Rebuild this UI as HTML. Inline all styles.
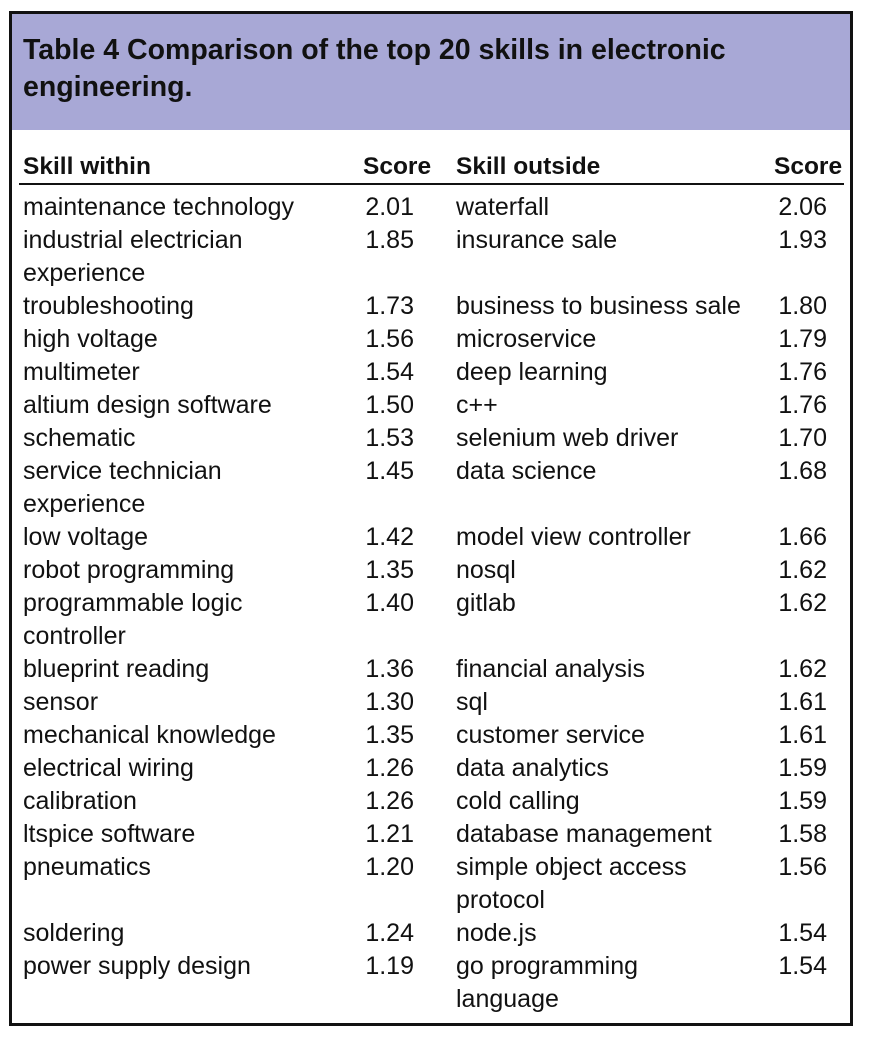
<!DOCTYPE html>
<html><head><meta charset="utf-8"><style>
body{margin:0;background:#fff;width:888px;height:1042px;position:relative;font-family:"Liberation Sans",sans-serif;color:#111;}
#box{position:absolute;left:9px;top:11px;width:838px;height:1009px;border:3px solid #111;}
#hd{position:absolute;left:0;top:0;width:838px;height:116px;background:#a8a8d6;}
#title{position:absolute;left:11px;top:18px;font-weight:bold;font-size:28.5px;line-height:37px;width:830px;white-space:nowrap;}
.h{position:absolute;top:139px;font-weight:bold;font-size:24.5px;}
#rule{position:absolute;left:7px;top:169px;width:825px;height:2px;background:#111;}
#rows{position:absolute;left:0;top:177px;width:838px;font-size:25px;line-height:33px;}
.r{position:relative;}
.a{position:absolute;left:11px;width:330px;}
.b{position:absolute;left:330px;width:72px;text-align:right;}
.c{position:absolute;left:444px;width:320px;}
.d{position:absolute;left:740px;width:75px;text-align:right;}
</style></head><body>
<div id="box">
<div id="hd"></div>
<div id="title">Table 4 Comparison of the top 20 skills in electronic<br>engineering.</div>
<div class="h" style="left:11px">Skill within</div>
<div class="h" style="left:351px">Score</div>
<div class="h" style="left:444px">Skill outside</div>
<div class="h" style="left:762px">Score</div>
<div id="rule"></div>
<div id="rows">
<div class="r" style="height:33px"><span class="a">maintenance technology</span><span class="b">2.01</span><span class="c">waterfall</span><span class="d">2.06</span></div>
<div class="r" style="height:66px"><span class="a">industrial electrician<br>experience</span><span class="b">1.85</span><span class="c">insurance sale</span><span class="d">1.93</span></div>
<div class="r" style="height:33px"><span class="a">troubleshooting</span><span class="b">1.73</span><span class="c">business to business sale</span><span class="d">1.80</span></div>
<div class="r" style="height:33px"><span class="a">high voltage</span><span class="b">1.56</span><span class="c">microservice</span><span class="d">1.79</span></div>
<div class="r" style="height:33px"><span class="a">multimeter</span><span class="b">1.54</span><span class="c">deep learning</span><span class="d">1.76</span></div>
<div class="r" style="height:33px"><span class="a">altium design software</span><span class="b">1.50</span><span class="c">c++</span><span class="d">1.76</span></div>
<div class="r" style="height:33px"><span class="a">schematic</span><span class="b">1.53</span><span class="c">selenium web driver</span><span class="d">1.70</span></div>
<div class="r" style="height:66px"><span class="a">service technician<br>experience</span><span class="b">1.45</span><span class="c">data science</span><span class="d">1.68</span></div>
<div class="r" style="height:33px"><span class="a">low voltage</span><span class="b">1.42</span><span class="c">model view controller</span><span class="d">1.66</span></div>
<div class="r" style="height:33px"><span class="a">robot programming</span><span class="b">1.35</span><span class="c">nosql</span><span class="d">1.62</span></div>
<div class="r" style="height:66px"><span class="a">programmable logic<br>controller</span><span class="b">1.40</span><span class="c">gitlab</span><span class="d">1.62</span></div>
<div class="r" style="height:33px"><span class="a">blueprint reading</span><span class="b">1.36</span><span class="c">financial analysis</span><span class="d">1.62</span></div>
<div class="r" style="height:33px"><span class="a">sensor</span><span class="b">1.30</span><span class="c">sql</span><span class="d">1.61</span></div>
<div class="r" style="height:33px"><span class="a">mechanical knowledge</span><span class="b">1.35</span><span class="c">customer service</span><span class="d">1.61</span></div>
<div class="r" style="height:33px"><span class="a">electrical wiring</span><span class="b">1.26</span><span class="c">data analytics</span><span class="d">1.59</span></div>
<div class="r" style="height:33px"><span class="a">calibration</span><span class="b">1.26</span><span class="c">cold calling</span><span class="d">1.59</span></div>
<div class="r" style="height:33px"><span class="a">ltspice software</span><span class="b">1.21</span><span class="c">database management</span><span class="d">1.58</span></div>
<div class="r" style="height:66px"><span class="a">pneumatics</span><span class="b">1.20</span><span class="c">simple object access<br>protocol</span><span class="d">1.56</span></div>
<div class="r" style="height:33px"><span class="a">soldering</span><span class="b">1.24</span><span class="c">node.js</span><span class="d">1.54</span></div>
<div class="r" style="height:66px"><span class="a">power supply design</span><span class="b">1.19</span><span class="c">go programming<br>language</span><span class="d">1.54</span></div>
</div>
</div>
</body></html>
